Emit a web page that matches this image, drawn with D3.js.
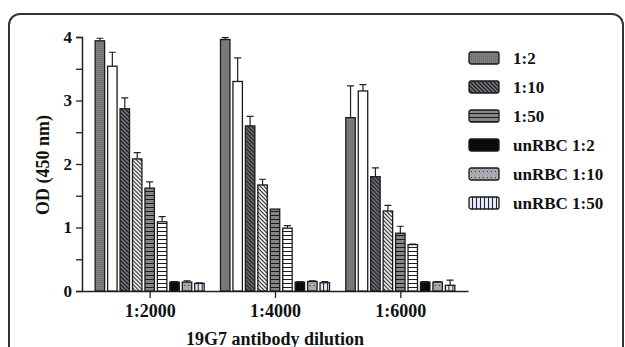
<!DOCTYPE html>
<html>
<head>
<meta charset="utf-8">
<script src="https://cdn.jsdelivr.net/npm/d3@7"></script>
<style>
body { margin: 0; background: #fff; }
svg { display: block; font-family: "Liberation Serif", "Times New Roman", serif; font-weight: bold; }
</style>
</head>
<body>
<div id="chart"></div>
<script>
// groups on the x axis
var groups = ["1:2000", "1:4000", "1:6000"];

// one entry per bar inside a group
var series = ["1:2", "1:2 w", "1:10", "1:10 w", "1:50", "1:50 w", "unRBC 1:2", "unRBC 1:10", "unRBC 1:50"];
var legendSeries = ["1:2", "1:10", "1:50", "unRBC 1:2", "unRBC 1:10", "unRBC 1:50"];

// mean OD per group, same order as series
var means2000 = [3.94, 3.54, 2.87, 2.08, 1.62, 1.09, 0.14, 0.14, 0.12];
var means4000 = [3.96, 3.30, 2.60, 1.67, 1.29, 0.99, 0.14, 0.15, 0.13];
var means6000 = [2.73, 3.15, 1.80, 1.26, 0.91, 0.73, 0.14, 0.14, 0.09];

// upper error (sd) per group
var err2000 = [0.04, 0.22, 0.17, 0.10, 0.10, 0.08, 0.01, 0.02, 0.01];
var err4000 = [0.03, 0.37, 0.15, 0.09, 0.00, 0.04, 0.01, 0.01, 0.02];
var err6000 = [0.50, 0.10, 0.14, 0.09, 0.11, 0.01, 0.01, 0.01, 0.08];

var yTicks = [0, 0.5, 1, 1.5, 2, 2.5, 3, 3.5, 4];

var means = [means2000, means4000, means6000];
var errs = [err2000, err4000, err6000];

var W = 625, H = 347;

var svg = d3.select("#chart").append("svg")
	.attr("width", W)
	.attr("height", H);

var defs = svg.append("defs");

function pattern(id, bg, draw, w, h)
{
	var p = defs.append("pattern")
		.attr("id", id)
		.attr("patternUnits", "userSpaceOnUse")
		.attr("width", w)
		.attr("height", h);
	p.append("rect").attr("width", w).attr("height", h).attr("fill", bg);
	draw(p);
}

function diag(color, width)
{
	return function(p) {
		p.append("path").attr("d", "M-1,-1 L5,5 M-1,3 L1,5 M3,-1 L5,1")
			.attr("stroke", color).attr("stroke-width", width);
	};
}

function horiz(color)
{
	return function(p) {
		p.append("rect").attr("x", 0).attr("y", 3).attr("width", 4).attr("height", 1.1).attr("fill", color);
	};
}

pattern("p12", "#7e7e7e", function(p) {
	p.append("rect").attr("width", 1).attr("height", 1).attr("fill", "#6a6a6a");
}, 2, 2);
pattern("p110", "#7a7a86", diag("#222", 1.4), 4, 4);
pattern("p110w", "#fff", diag("#222", 1.2), 4, 4);
pattern("p150", "#868686", horiz("#1a1a1a"), 4, 4);
pattern("p150w", "#fff", horiz("#1a1a1a"), 4, 4);
pattern("pu110", "#a8a8b0", function(p) {
	p.append("rect").attr("x", 2).attr("y", 3).attr("width", 1).attr("height", 1).attr("fill", "#333");
}, 4, 6);
pattern("pu150", "#e4e6ff", function(p) {
	p.append("rect").attr("x", 3).attr("y", 0).attr("width", 1).attr("height", 4).attr("fill", "#222");
}, 4, 4);

var fills = {
	"1:2": "url(#p12)",
	"1:2 w": "#fff",
	"1:10": "url(#p110)",
	"1:10 w": "url(#p110w)",
	"1:50": "url(#p150)",
	"1:50 w": "url(#p150w)",
	"unRBC 1:2": "#0a0a0a",
	"unRBC 1:10": "url(#pu110)",
	"unRBC 1:50": "url(#pu150)"
};

// rounded frame around the figure panel
svg.append("rect")
	.attr("x", 9).attr("y", 14)
	.attr("width", 614).attr("height", 400)
	.attr("rx", 11)
	.attr("fill", "none")
	.attr("stroke", "#333")
	.attr("stroke-width", 2);

var x0 = 82, x1 = 468, yTop = 37, yBot = 291;

var xS = d3.scalePoint()
	.domain(groups)
	.range([x0, x1])
	.padding(0.54);

var xInner = d3.scaleBand()
	.domain(series)
	.range([-56, 56])
	.paddingInner(0.24)
	.paddingOuter(0.12);

var yS = d3.scaleLinear()
	.domain([0, 4])
	.range([yBot, yTop]);

// y axis
var yAxis = d3.axisLeft(yS)
	.tickValues(yTicks)
	.tickSize(6)
	.tickPadding(4)
	.tickFormat(function(d) { return Number.isInteger(d) ? d : ""; });

var gy = svg.append("g")
	.attr("transform", "translate(" + x0 + ",0)")
	.call(yAxis);
gy.select(".domain").attr("stroke", "#222").attr("stroke-width", 1.5);
gy.selectAll(".tick line").attr("stroke", "#222").attr("stroke-width", 1.3);
gy.selectAll(".tick text")
	.attr("font-family", "Liberation Serif, serif")
	.attr("font-weight", "bold")
	.attr("font-size", 17)
	.attr("fill", "#111");

// x axis
var xAxis = d3.axisBottom(xS)
	.tickSize(7)
	.tickSizeOuter(0)
	.tickPadding(6);

var gx = svg.append("g")
	.attr("transform", "translate(0," + yBot + ")")
	.call(xAxis);
gx.select(".domain").attr("stroke", "#222").attr("stroke-width", 1.5);
gx.selectAll(".tick line").attr("stroke", "#222").attr("stroke-width", 1.3);
gx.selectAll(".tick text")
	.attr("font-family", "Liberation Serif, serif")
	.attr("font-weight", "bold")
	.attr("font-size", 18)
	.attr("fill", "#111");

// bars
var rows = [];
groups.forEach(function(g, gi)
{
	series.forEach(function(s, si)
	{
		rows.push({group: g, series: s, value: means[gi][si], err: errs[gi][si]});
	});
});

var bars = svg.append("g").selectAll(".bar")
	.data(rows)
	.enter().append("g")
	.attr("class", "bar")
	.attr("transform", function(d) { return "translate(" + (xS(d.group) + xInner(d.series)) + ",0)"; });

var bw = xInner.bandwidth();

bars.filter(function(d) { return d.err > 0; })
	.append("path")
	.attr("d", function(d) {
		var top = yS(d.value + d.err);
		return "M" + (bw / 2) + "," + yS(d.value) + "V" + top + "M" + (bw / 2 - 3.5) + "," + top + "H" + (bw / 2 + 3.5);
	})
	.attr("stroke", "#222")
	.attr("stroke-width", 1.2)
	.attr("fill", "none");

bars.append("rect")
	.attr("x", 0)
	.attr("y", function(d) { return yS(d.value); })
	.attr("width", bw)
	.attr("height", function(d) { return yBot - yS(d.value); })
	.attr("fill", function(d) { return fills[d.series]; })
	.attr("stroke", "#1a1a1a")
	.attr("stroke-width", 1.3);

// legend
var legend = svg.append("g")
	.attr("transform", "translate(469,52)");

var items = legend.selectAll(".item")
	.data(legendSeries)
	.enter().append("g")
	.attr("class", "item")
	.attr("transform", function(d, i) { return "translate(0," + (i * 29) + ")"; });

items.append("rect")
	.attr("width", 30)
	.attr("height", 12)
	.attr("rx", 2)
	.attr("fill", function(d) { return fills[d]; })
	.attr("stroke", "#1a1a1a")
	.attr("stroke-width", 1.3);

items.append("text")
	.attr("x", 44)
	.attr("y", 6)
	.attr("dy", "0.35em")
	.attr("font-size", 17)
	.attr("fill", "#111")
	.text(function(d) { return d; });

// axis titles
svg.append("text")
	.attr("transform", "translate(43," + 165 + ") rotate(-90)")
	.attr("text-anchor", "middle")
	.attr("dy", "0.35em")
	.attr("font-size", 18)
	.attr("fill", "#111")
	.text("OD (450 nm)");

svg.append("text")
	.attr("x", xS("1:4000"))
	.attr("y", 345)
	.attr("text-anchor", "middle")
	.attr("font-size", 18)
	.attr("fill", "#111")
	.text("19G7 antibody dilution");
</script>
</body>
</html>
